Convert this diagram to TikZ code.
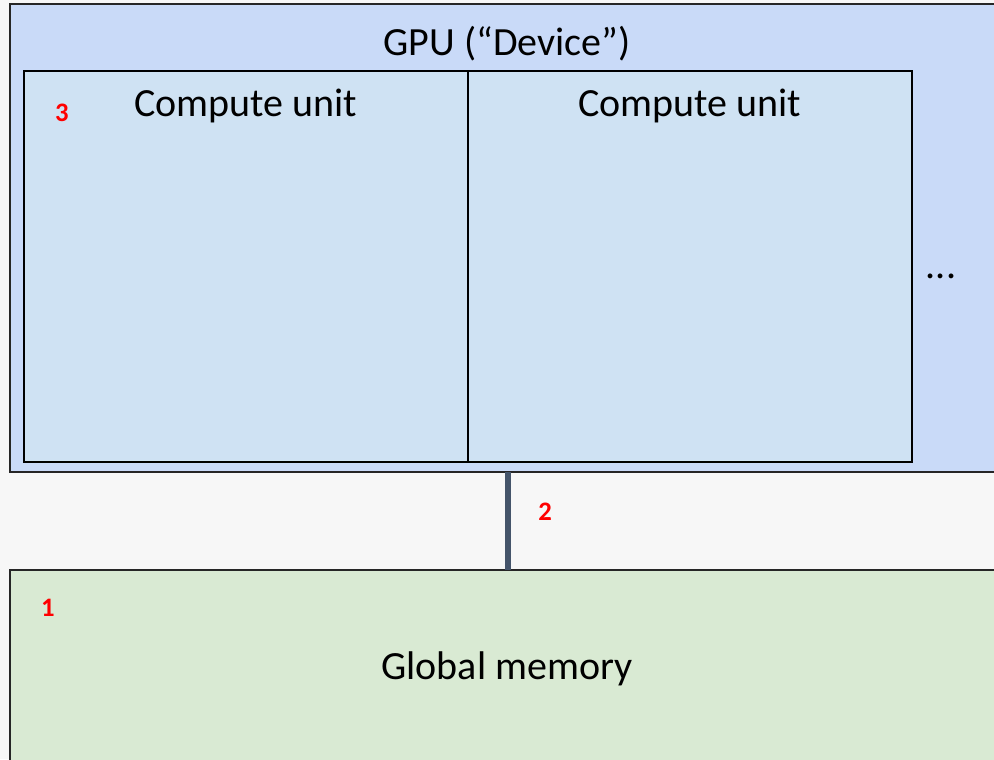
\documentclass[tikz,border=0pt]{standalone}
\usepackage{fontspec}
\setmainfont{Carlito}
\usetikzlibrary{positioning}

\definecolor{gpublue}{HTML}{C9DAF8}
\definecolor{cublue}{HTML}{CFE2F3}
\definecolor{memgreen}{HTML}{D9EAD3}
\definecolor{busgray}{HTML}{44546A}
\definecolor{pagegray}{HTML}{F7F7F7}

\tikzset{
  box/.style={draw=black, line width=1.4pt, inner sep=0pt},
  tag/.style={text=red, font=\fontsize{20}{20}\selectfont\bfseries},
  caption/.style={font=\fontsize{30}{30}\selectfont}
}

\begin{document}
\begin{tikzpicture}[x=0.75pt,y=-0.75pt]
        \useasboundingbox (0,0) rectangle (994,759);
        \fill[pagegray] (0,0) rectangle (994,759);
        \clip (0,0) rectangle (994,759);
        % device and memory
        \draw[box, fill=gpublue, draw=black!85] (10,4) rectangle (1010,472);
        \coordinate (gpu) at (508,472);
        \draw[box, fill=memgreen, draw=black!85] (10,570) rectangle (1010,780);
        \coordinate (mem) at (508,570);
        \draw[busgray, line width=4.5pt] (gpu) -- (mem);
        % compute units
        \draw[box, fill=cublue] (24,71) rectangle (468,462);
        \draw[box, fill=cublue] (468,71) rectangle (912,462);
        \node[caption] (gputitle) at (507,44) {GPU (“Device”)};
        \node[caption] (cu1) at (246,106) {Compute unit};
        \node[caption] (cu2) at (690,106) {Compute unit};
        \node[caption] (more) at (941,276) {...};
        \node[caption] (memtitle) at (507,669) {Global memory};
        \node[tag] (n3) at (62,113) {3};
        \node[tag] (n2) at (545,512) {2};
        \node[tag] (n1) at (48,608) {1};
      \end{tikzpicture}
\end{document}
